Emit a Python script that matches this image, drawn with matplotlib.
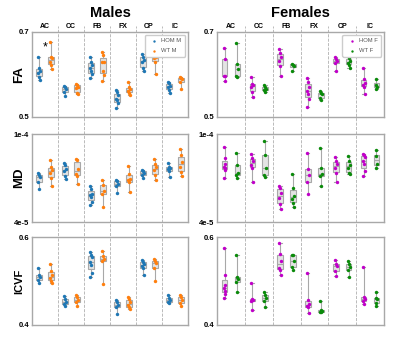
import numpy as np
import matplotlib.pyplot as plt

plt.rcParams['font.family'] = ['Liberation Sans', 'DejaVu Sans']

tracts = ['AC', 'CC', 'FB', 'FX', 'CP', 'IC']

# FA values per tract (males)
fa_hom_m = [[0.640, 0.615, 0.608, 0.603, 0.595, 0.587],
            [0.573, 0.570, 0.565, 0.559, 0.549],
            [0.642, 0.630, 0.623, 0.615, 0.607, 0.601, 0.591],
            [0.563, 0.559, 0.551, 0.543, 0.540, 0.532, 0.522],
            [0.649, 0.642, 0.634, 0.628, 0.615, 0.607],
            [0.583, 0.579, 0.573, 0.570, 0.563, 0.557]]
fa_wt_m = [[0.676, 0.642, 0.638, 0.630, 0.623, 0.613],
           [0.577, 0.575, 0.571, 0.567, 0.557, 0.554],
           [0.652, 0.646, 0.630, 0.628, 0.607, 0.599, 0.585],
           [0.581, 0.570, 0.565, 0.562, 0.557, 0.551],
           [0.654, 0.650, 0.642, 0.638, 0.630, 0.601],
           [0.595, 0.592, 0.589, 0.583, 0.565]]
# FA values (females)
fa_hom_f = [[0.662, 0.635, 0.597, 0.596, 0.584],
            [0.594, 0.578, 0.576, 0.571, 0.558, 0.547],
            [0.660, 0.651, 0.641, 0.631, 0.619, 0.596],
            [0.592, 0.582, 0.571, 0.560, 0.553, 0.541, 0.524],
            [0.641, 0.636, 0.631, 0.627, 0.607],
            [0.615, 0.588, 0.580, 0.576, 0.571, 0.553]]
fa_wt_f = [[0.674, 0.625, 0.613, 0.597, 0.594],
           [0.576, 0.571, 0.566, 0.563, 0.558],
           [0.625, 0.623, 0.619, 0.609],
           [0.560, 0.556, 0.553, 0.545, 0.539],
           [0.644, 0.639, 0.631, 0.627, 0.623, 0.615],
           [0.589, 0.576, 0.571, 0.566]]

# MD values in units of 1e-5
md_hom_m = [[7.38, 7.24, 7.08, 6.74, 6.24],
            [8.06, 7.88, 7.65, 7.47, 7.15, 6.97],
            [6.46, 6.28, 5.94, 5.83, 5.71, 5.37, 5.14],
            [6.85, 6.78, 6.62, 6.46, 6.01],
            [7.54, 7.47, 7.38, 7.24, 7.01],
            [8.06, 7.76, 7.70, 7.60, 7.47, 7.08]]
md_wt_m = [[8.27, 7.76, 7.54, 7.38, 7.01, 6.46],
           [8.33, 8.22, 7.65, 7.31, 7.15, 6.62],
           [6.85, 6.51, 6.10, 5.94, 5.03],
           [7.83, 7.31, 6.97, 6.85, 6.74, 6.05],
           [8.33, 7.99, 7.76, 7.54, 7.24, 6.85],
           [8.97, 8.56, 8.11, 7.76, 7.42, 7.15]]
md_hom_f = [[9.14, 8.37, 7.95, 7.79, 7.72, 7.56, 6.98],
            [8.65, 8.37, 8.14, 7.91, 7.72, 6.74],
            [6.47, 6.33, 6.00, 5.63, 5.23, 4.88],
            [8.72, 7.63, 7.21, 6.74, 5.93],
            [8.42, 8.19, 7.95, 7.67, 7.33, 6.74],
            [8.65, 8.56, 8.42, 8.19, 7.95, 7.49, 7.16]]
md_wt_f = [[8.72, 7.91, 7.33, 7.21, 6.98],
           [9.53, 8.60, 7.67, 7.21, 7.09],
           [7.26, 6.33, 5.81, 5.58, 5.30, 5.00],
           [9.07, 7.67, 7.26, 7.16, 6.47],
           [8.49, 8.14, 7.91, 7.72, 7.33, 7.26],
           [8.95, 8.49, 7.95, 7.72]]

# ICVF values
icvf_hom_m = [[0.530, 0.513, 0.509, 0.503, 0.495],
              [0.465, 0.459, 0.453, 0.448, 0.443],
              [0.566, 0.559, 0.554, 0.544, 0.537, 0.519, 0.509],
              [0.456, 0.451, 0.445, 0.441, 0.425],
              [0.548, 0.544, 0.538, 0.533, 0.529, 0.513],
              [0.467, 0.461, 0.457, 0.453, 0.449]]
icvf_wt_m = [[0.538, 0.522, 0.513, 0.506, 0.501, 0.495],
             [0.469, 0.463, 0.457, 0.451, 0.443],
             [0.568, 0.556, 0.551, 0.546, 0.493],
             [0.463, 0.459, 0.451, 0.445, 0.440, 0.437],
             [0.551, 0.546, 0.540, 0.530, 0.501],
             [0.469, 0.463, 0.457, 0.449, 0.443]]
icvf_hom_f = [[0.575, 0.514, 0.490, 0.483, 0.478, 0.470, 0.462],
              [0.496, 0.459, 0.456, 0.454, 0.435],
              [0.586, 0.562, 0.546, 0.530, 0.526, 0.514],
              [0.519, 0.456, 0.448, 0.443, 0.440, 0.426],
              [0.547, 0.539, 0.534, 0.523, 0.512],
              [0.531, 0.464, 0.459, 0.454, 0.448]]
icvf_wt_f = [[0.558, 0.510, 0.504, 0.498, 0.474],
             [0.475, 0.467, 0.462, 0.454, 0.440],
             [0.560, 0.558, 0.546, 0.531, 0.526],
             [0.454, 0.434, 0.432, 0.430, 0.430],
             [0.546, 0.539, 0.531, 0.526, 0.510],
             [0.475, 0.462, 0.459, 0.450, 0.443]]

metrics = ['FA', 'MD', 'ICVF']
ylims = [(0.5, 0.7), (4e-5, 1e-4), (0.4, 0.6)]
ylabels = [('0.5', '0.7'), ('4e-5', '1e-4'), ('0.4', '0.6')]
scale = [1, 1e-5, 1]

male_data = [(fa_hom_m, fa_wt_m), (md_hom_m, md_wt_m), (icvf_hom_m, icvf_wt_m)]
female_data = [(fa_hom_f, fa_wt_f), (md_hom_f, md_wt_f), (icvf_hom_f, icvf_wt_f)]

fig = plt.figure(figsize=(4.0, 3.46), dpi=100)

col_x = [(0.08, 0.39), (0.5425, 0.4175)]
row_y = [(0.662, 0.246), (0.358, 0.254), (0.061, 0.254)]
label_size = [9.5, 9.5, 8]
sexes = [('Males', male_data, ('#1f77b4', '#ff7f0e'), ('HOM M', 'WT M')),
         ('Females', female_data, ('#c000c8', '#0a8a0a'), ('HOM F', 'WT F'))]

x = np.arange(len(tracts))
offset = 0.23

for c, (title, data, colors, names) in enumerate(sexes):
    for r, metric in enumerate(metrics):
        ax = fig.add_axes([col_x[c][0], row_y[r][0], col_x[c][1], row_y[r][1]])
        hom, wt = data[r]
        for k, (grp, col, nm) in enumerate(zip((hom, wt), colors, names)):
            pos = x + (2 * k - 1) * offset
            vals = [np.array(v) * scale[r] for v in grp]
            ax.boxplot(vals, positions=pos, widths=0.2, patch_artist=True,
                       showfliers=False, whis=(0, 100),
                       boxprops=dict(facecolor='#e4e4e4', edgecolor='#a8a8a8', lw=0.8),
                       whiskerprops=dict(color='#a8a8a8', lw=0.8),
                       capprops=dict(color='#a8a8a8', lw=0.8),
                       medianprops=dict(color='#a8a8a8', lw=0.8))
            for i, v in enumerate(vals):
                jit = ((np.arange(len(v)) % 3) - 1) * 0.035
                ax.scatter(pos[i] + jit, v, s=6, color=col, zorder=3,
                           lw=0, label=nm if i == 0 else None)
        ax.set_xlim(-0.5, 5.5)
        ax.set_ylim(*ylims[r])
        ax.set_yticks(ylims[r])
        ax.set_yticklabels(ylabels[r], fontsize=5.5, fontweight='bold')
        ax.tick_params(axis='y', length=0, pad=2)
        ax.set_xticks([])
        for s in ax.spines.values():
            s.set_color('#a8a8a8')
            s.set_linewidth(1.0)
        ymin = 0 if r == 2 else -0.2
        ymax = 1.07 if r == 0 else 1.0
        for b in x[:-1] + 0.5:
            ax.axvline(b, ymin=ymin, ymax=ymax, color='#b0b0b0', ls='--',
                       lw=0.6, clip_on=False, zorder=0)
        if r == 0:
            for i, t in enumerate(tracts):
                ax.text(i, 1.02, t, transform=ax.get_xaxis_transform(),
                        ha='center', va='bottom', fontsize=5, fontweight='bold')
            ax.set_title(title, fontsize=10.5, fontweight='bold', pad=11)
            leg = ax.legend(loc='upper right', fontsize=4.2, markerscale=0.7,
                            handletextpad=0.2, borderpad=0.6, labelspacing=0.8,
                            framealpha=1, edgecolor='#cccccc')
            for t in leg.get_texts():
                t.set_color('#555555')
            if c == 0:
                ax.text(0, 0.664, '*', ha='center', va='center', fontsize=9)
        if c == 0:
            fig.text(0.048, row_y[r][0] + row_y[r][1] / 2, metric, rotation=90,
                     ha='center', va='center', fontsize=label_size[r],
                     fontweight='bold')

fig.savefig('out.png', dpi=100)
